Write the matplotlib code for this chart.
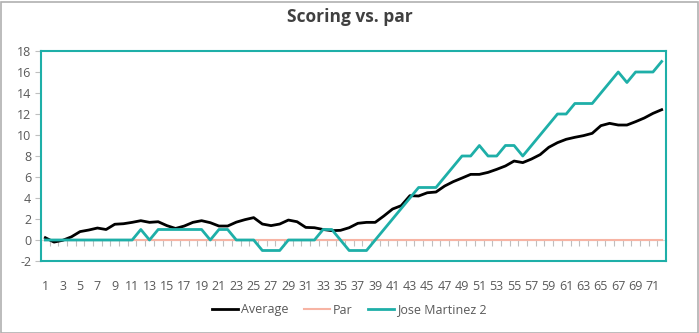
import matplotlib
matplotlib.use("Agg")
import matplotlib.pyplot as plt
import numpy as np
from matplotlib.patches import Rectangle

holes = list(range(1, 73))
average = [0.22, -0.2, -0.03, 0.3, 0.8, 0.95, 1.14, 1.0, 1.5, 1.55,
           1.68, 1.84, 1.68, 1.74, 1.37, 1.1, 1.33, 1.68, 1.84, 1.65,
           1.33, 1.33, 1.7, 1.94, 2.13, 1.52, 1.37, 1.52, 1.9, 1.74,
           1.2, 1.17, 1.0, 0.89, 0.92, 1.17, 1.59, 1.68, 1.68, 2.29,
           2.95, 3.27, 4.22, 4.19, 4.5, 4.57, 5.14, 5.56, 5.9, 6.25,
           6.25, 6.44, 6.73, 7.05, 7.52, 7.37, 7.71, 8.13, 8.83, 9.27,
           9.59, 9.78, 9.94, 10.16, 10.89, 11.11, 10.95, 10.95, 11.27, 11.62,
           12.06, 12.41]
par = [0] * 72
jose = [0, 0, 0, 0, 0, 0, 0, 0, 0, 0,
        0, 1, 0, 1, 1, 1, 1, 1, 1, 0,
        1, 1, 0, 0, 0, -1, -1, -1, 0, 0,
        0, 0, 1, 1, 0, -1, -1, -1, 0, 1,
        2, 3, 4, 5, 5, 5, 6, 7, 8, 8,
        9, 8, 8, 9, 9, 8, 9, 10, 11, 12,
        12, 13, 13, 13, 14, 15, 16, 15, 16, 16,
        16, 17]
y_ticks = list(range(-2, 19, 2))
title = "Scoring vs. par"

TEXT = "#595959"
TEAL = "#1EAFA8"
SALMON = "#F7B4A4"

plt.rcParams['font.family'] = ['Open Sans', 'DejaVu Sans']

fig = plt.figure(figsize=(6.99, 3.33), dpi=100)
ax = fig.add_axes([41/699, 1 - 261/333, (666 - 41)/699, (261 - 51)/333])

x = np.array(holes)
ax.plot(x, par, color=SALMON, lw=1.5, label="Par", zorder=3)
ax.plot(x, average, color="black", lw=2.0, label="Average", zorder=4)
ax.plot(x, jose, color=TEAL, lw=2.0, label="Jose Martinez 2", zorder=5)

ax.set_xlim(0.5, len(holes) + 0.5)
ax.set_ylim(-2, 18)
ax.set_yticks(y_ticks)
ax.set_yticklabels([str(v) for v in y_ticks])
ax.tick_params(axis='y', colors="#BFBFBF", labelcolor=TEXT, labelsize=9,
               length=4, width=0.8, pad=3)

ax.set_xticks(x[::2])
ax.set_xticklabels([str(v) for v in holes[::2]])
ax.tick_params(axis='x', length=0, labelcolor=TEXT, labelsize=9, pad=14)

for s in ax.spines.values():
    s.set_color(TEAL)
    s.set_linewidth(1.5)

# category axis crossing at y = 0
y0 = (0 - (-2)) / 20
sec = ax.secondary_xaxis(y0)
sec.set_xticks(np.arange(0.5, len(holes) + 1, 1))
sec.set_xticklabels([])
sec.tick_params(axis='x', direction='out', length=4, width=0.8, colors="#BFBFBF")
sec.spines['bottom'].set_color("#D9D9D9")
sec.spines['bottom'].set_linewidth(0.8)
sec.spines['bottom'].set_zorder(1)

fig.text(0.5, 1 - 17/333, title, ha='center', va='center',
         fontsize=12.5, fontweight='bold', color="#404040")

handles, labels = ax.get_legend_handles_labels()
order = [1, 0, 2]
fig.legend([handles[i] for i in order], [labels[i] for i in order],
           loc='center', bbox_to_anchor=(0.5, 1 - 310/333), ncol=3,
           frameon=False, fontsize=9, handlelength=2.1, handletextpad=0.25,
           columnspacing=1.2, labelcolor=TEXT)

fig.patches.append(Rectangle((0.5/699, 0.5/333), 697/699, 331/333,
                             transform=fig.transFigure, fill=False,
                             edgecolor="#B0B0B0", lw=1.2))

fig.savefig("out.png", dpi=100)
